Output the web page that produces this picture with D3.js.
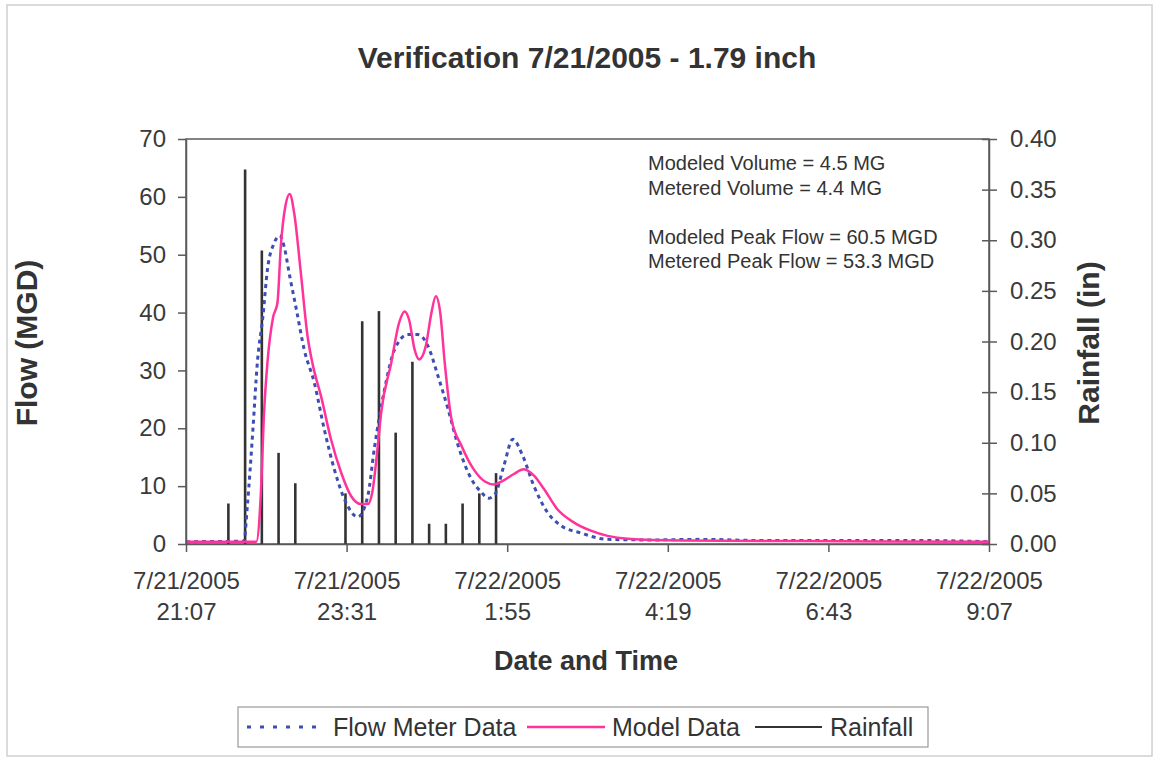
<!DOCTYPE html>
<html lang="en">
<head>
<meta charset="UTF-8">
<title>Verification 7/21/2005</title>
<script src="https://d3js.org/d3.v7.min.js"></script>
<style>
    body { margin: 0; background: #fff; }
    text { font-family: "Liberation Sans", Arial, sans-serif; fill: #333; }
    .axis path, .axis line { stroke: #5a5a5a; stroke-width: 1.5px; }
    .axis text { font-size: 24px; fill: #3a3a3a; }
</style>
</head>
<body>
<div id="container"></div>
<script>
// DATA
const startTime = "7/21/2005 21:07";
const endTime = "7/22/2005 9:07";

const xTickTimes = ["7/21/2005 21:07", "7/21/2005 23:31", "7/22/2005 1:55",
                    "7/22/2005 4:19", "7/22/2005 6:43", "7/22/2005 9:07"];
const xTickDates = ["7/21/2005", "7/21/2005", "7/22/2005", "7/22/2005", "7/22/2005", "7/22/2005"];
const xTickClock = ["21:07", "23:31", "1:55", "4:19", "6:43", "9:07"];
const flowTicks = [0, 10, 20, 30, 40, 50, 60, 70];
const rainTicks = [0, 0.05, 0.10, 0.15, 0.20, 0.25, 0.30, 0.35, 0.40];

// rainfall (in), 15 minute bins
const rainTimes = ["7/21/2005 21:45", "7/21/2005 22:00", "7/21/2005 22:15", "7/21/2005 22:30",
                   "7/21/2005 22:45", "7/21/2005 23:30", "7/21/2005 23:45", "7/22/2005 0:00",
                   "7/22/2005 0:15", "7/22/2005 0:30", "7/22/2005 0:45", "7/22/2005 1:00",
                   "7/22/2005 1:15", "7/22/2005 1:30", "7/22/2005 1:45"];
const rainValues = [0.04, 0.37, 0.29, 0.09, 0.06, 0.05, 0.22, 0.23,
                    0.11, 0.18, 0.02, 0.02, 0.04, 0.05, 0.07];

// flow meter (MGD)
const meterTimes = ["7/21/2005 21:07", "7/21/2005 21:59", "7/21/2005 22:02", "7/21/2005 22:07",
                    "7/21/2005 22:11", "7/21/2005 22:16", "7/21/2005 22:20", "7/21/2005 22:26",
                    "7/21/2005 22:31", "7/21/2005 22:35", "7/21/2005 22:40", "7/21/2005 22:46",
                    "7/21/2005 22:53", "7/21/2005 23:02", "7/21/2005 23:11", "7/21/2005 23:20",
                    "7/21/2005 23:29", "7/21/2005 23:41", "7/21/2005 23:50", "7/21/2005 23:56",
                    "7/22/2005 0:05", "7/22/2005 0:14", "7/22/2005 0:26", "7/22/2005 0:35",
                    "7/22/2005 0:44", "7/22/2005 0:53", "7/22/2005 1:02", "7/22/2005 1:11",
                    "7/22/2005 1:23", "7/22/2005 1:32", "7/22/2005 1:38", "7/22/2005 1:44",
                    "7/22/2005 1:52", "7/22/2005 2:00", "7/22/2005 2:09", "7/22/2005 2:19",
                    "7/22/2005 2:31", "7/22/2005 2:43", "7/22/2005 3:01", "7/22/2005 3:25",
                    "7/22/2005 4:04", "7/22/2005 4:49", "7/22/2005 5:43", "7/22/2005 7:03",
                    "7/22/2005 8:06", "7/22/2005 9:07"];
const meterValues = [0.4, 0.5, 6.6, 19.8,
                     31.4, 39.4, 47.4, 52.0,
                     53.3, 51.4, 46.3, 40.5,
                     33.6, 27.9, 19.8, 12.9,
                     7.8, 4.7, 8.3, 16.7,
                     26.7, 33.6, 36.2, 36.2,
                     34.2, 29.0, 23.3, 17.0,
                     11.2, 8.9, 7.9, 8.6,
                     13.5, 18.1, 15.2, 10.0,
                     5.5, 3.2, 1.9, 0.8,
                     0.7, 0.8, 0.6, 0.6,
                     0.6, 0.4];

// model (MGD)
const modelTimes = ["7/21/2005 21:07", "7/21/2005 22:10", "7/21/2005 22:14", "7/21/2005 22:17",
                    "7/21/2005 22:20", "7/21/2005 22:25", "7/21/2005 22:29", "7/21/2005 22:32",
                    "7/21/2005 22:36", "7/21/2005 22:40", "7/21/2005 22:44", "7/21/2005 22:50",
                    "7/21/2005 22:56", "7/21/2005 23:01", "7/21/2005 23:08", "7/21/2005 23:17",
                    "7/21/2005 23:26", "7/21/2005 23:35", "7/21/2005 23:44", "7/21/2005 23:50",
                    "7/21/2005 23:54", "7/21/2005 23:59", "7/22/2005 0:02", "7/22/2005 0:11",
                    "7/22/2005 0:18", "7/22/2005 0:23", "7/22/2005 0:27", "7/22/2005 0:32",
                    "7/22/2005 0:36", "7/22/2005 0:42", "7/22/2005 0:47", "7/22/2005 0:51",
                    "7/22/2005 0:55", "7/22/2005 0:59", "7/22/2005 1:05", "7/22/2005 1:14",
                    "7/22/2005 1:25", "7/22/2005 1:35", "7/22/2005 1:43", "7/22/2005 1:51",
                    "7/22/2005 2:01", "7/22/2005 2:10", "7/22/2005 2:19", "7/22/2005 2:28",
                    "7/22/2005 2:40", "7/22/2005 2:55", "7/22/2005 3:10", "7/22/2005 3:25",
                    "7/22/2005 3:43", "7/22/2005 4:31", "7/22/2005 6:18", "7/22/2005 9:07"];
const modelValues = [0.4, 0.4, 8.3, 22.7,
                     31.3, 39.1, 41.7, 51.4,
                     58.3, 60.5, 57.2, 46.8,
                     35.9, 30.7, 25.6, 18.1,
                     12.4, 8.3, 6.9, 6.9,
                     8.9, 17.0, 22.7, 31.3,
                     38.2, 40.2, 38.8, 33.6,
                     31.9, 34.2, 39.9, 42.8,
                     39.9, 31.3, 21.6, 17.0,
                     12.9, 10.8, 10.3, 10.9,
                     12.1, 12.9, 11.8, 9.5,
                     6.0, 3.7, 2.3, 1.4,
                     0.9, 0.6, 0.5, 0.4];

const noteLines = ["Modeled Volume = 4.5 MG", "Metered Volume = 4.4 MG", "",
                   "Modeled Peak Flow = 60.5 MGD", "Metered Peak Flow = 53.3 MGD"];

// 1. PREPARATION
const width = 1159;
const height = 761;
const plot = { left: 186, right: 989, top: 139, bottom: 544 };
const blue = "#3c4db4";
const pink = "#ff3399";
const rainColor = "#333";

const parseTime = d3.timeParse("%m/%d/%Y %H:%M");
const meter = meterTimes.map((t, i) => ({ date: parseTime(t), value: meterValues[i] }));
const model = modelTimes.map((t, i) => ({ date: parseTime(t), value: modelValues[i] }));
const rain = rainTimes.map((t, i) => ({ date: parseTime(t), value: rainValues[i] }));

const svg = d3.select("#container").append("svg")
    .attr("width", width)
    .attr("height", height);

// page frame
svg.append("rect")
    .attr("x", 7).attr("y", 5)
    .attr("width", 1145).attr("height", 751)
    .attr("fill", "#fff")
    .attr("stroke", "#d0d0d0")
    .attr("stroke-width", 1.5);

// SCALES
const xScale = d3.scaleTime()
    .domain([parseTime(startTime), parseTime(endTime)])
    .range([plot.left, plot.right]);
const yFlow = d3.scaleLinear().domain([0, 70]).range([plot.bottom, plot.top]);
const yRain = d3.scaleLinear().domain([0, 0.4]).range([plot.bottom, plot.top]);

// 2. DRAWING
// plot frame
svg.append("rect")
    .attr("x", plot.left).attr("y", plot.top)
    .attr("width", plot.right - plot.left).attr("height", plot.bottom - plot.top)
    .attr("fill", "#fff")
    .attr("stroke", "#5a5a5a")
    .attr("stroke-width", 1.5);

// RAINFALL
svg.append("g").selectAll("line")
    .data(rain)
    .enter().append("line")
    .attr("x1", d => xScale(d.date))
    .attr("x2", d => xScale(d.date))
    .attr("y1", yRain(0))
    .attr("y2", d => yRain(d.value))
    .attr("stroke", rainColor)
    .attr("stroke-width", 2.6);

// LINES
const line = d3.line()
    .x(d => xScale(d.date))
    .y(d => yFlow(d.value))
    .curve(d3.curveMonotoneX);

svg.append("path")
    .datum(meter)
    .attr("d", line)
    .attr("fill", "none")
    .attr("stroke", blue)
    .attr("stroke-width", 3)
    .attr("stroke-dasharray", "4,4");

svg.append("path")
    .datum(model)
    .attr("d", line)
    .attr("fill", "none")
    .attr("stroke", pink)
    .attr("stroke-width", 2.5);

// AXES
svg.append("g")
    .attr("class", "axis")
    .attr("transform", "translate(" + plot.left + ",0)")
    .call(d3.axisLeft(yFlow).tickValues(flowTicks).tickSize(8).tickSizeOuter(0).tickPadding(12));

const rightAxis = svg.append("g")
    .attr("class", "axis")
    .attr("transform", "translate(" + plot.right + ",0)")
    .call(d3.axisRight(yRain).tickValues(rainTicks).tickSize(8).tickSizeOuter(0)
        .tickPadding(13).tickFormat(d3.format(".2f")));
rightAxis.selectAll(".tick line").attr("x1", -7);

const bottomAxis = svg.append("g")
    .attr("class", "axis")
    .attr("transform", "translate(0," + plot.bottom + ")")
    .call(d3.axisBottom(xScale).tickValues(xTickTimes.map(parseTime))
        .tickSize(8).tickSizeOuter(0).tickFormat(""));
bottomAxis.selectAll(".tick").each(function (d, i) {
    const t = d3.select(this).append("text")
        .attr("text-anchor", "middle")
        .attr("fill", "#3a3a3a");
    t.append("tspan").attr("x", 0).attr("y", 45).text(xTickDates[i]);
    t.append("tspan").attr("x", 0).attr("y", 76).text(xTickClock[i]);
});

// TITLES
svg.append("text")
    .attr("x", 587).attr("y", 68)
    .attr("text-anchor", "middle")
    .style("font-size", "30px").style("font-weight", "bold")
    .text("Verification 7/21/2005 - 1.79 inch");

svg.append("text")
    .attr("x", 586).attr("y", 670)
    .attr("text-anchor", "middle")
    .style("font-size", "27px").style("font-weight", "bold")
    .text("Date and Time");

svg.append("text")
    .attr("transform", "translate(37,343) rotate(-90)")
    .attr("text-anchor", "middle")
    .style("font-size", "30px").style("font-weight", "bold")
    .text("Flow (MGD)");

svg.append("text")
    .attr("transform", "translate(1099,343) rotate(-90)")
    .attr("text-anchor", "middle")
    .style("font-size", "30px").style("font-weight", "bold")
    .text("Rainfall (in)");

// NOTES
svg.append("g").selectAll("text")
    .data(noteLines)
    .enter().append("text")
    .attr("x", 648)
    .attr("y", (d, i) => 170 + i * 24.5)
    .style("font-size", "20px")
    .text(d => d);

// LEGEND
const legend = svg.append("g");
legend.append("rect")
    .attr("x", 238).attr("y", 707)
    .attr("width", 690).attr("height", 40)
    .attr("fill", "#fff")
    .attr("stroke", "#9a9a9a")
    .attr("stroke-width", 1.2);

const legendItems = [
    { label: "Flow Meter Data", x0: 247, x1: 325, tx: 333, color: blue, w: 3, dash: "4,9" },
    { label: "Model Data", x0: 527, x1: 605, tx: 612, color: pink, w: 2.5, dash: null },
    { label: "Rainfall", x0: 755, x1: 822, tx: 830, color: rainColor, w: 2, dash: null }
];
legendItems.forEach(function (it) {
    legend.append("line")
        .attr("x1", it.x0).attr("x2", it.x1)
        .attr("y1", 727).attr("y2", 727)
        .attr("stroke", it.color)
        .attr("stroke-width", it.w)
        .attr("stroke-dasharray", it.dash);
    legend.append("text")
        .attr("x", it.tx).attr("y", 736)
        .style("font-size", "25px")
        .text(it.label);
});
</script>
</body>
</html>
